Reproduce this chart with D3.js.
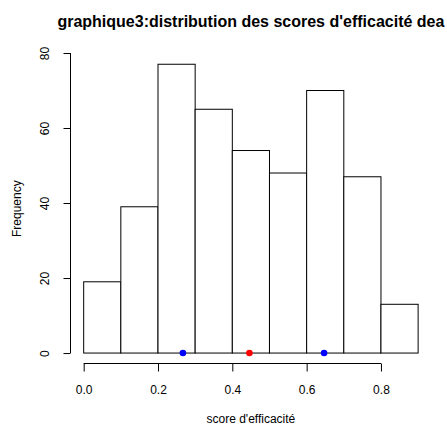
<!DOCTYPE html>
<html>
<head>
<meta charset="utf-8">
<script src="https://cdn.jsdelivr.net/npm/d3@7"></script>
<style>
  body { margin: 0; background: #fff; }
  svg text { font-family: "Liberation Sans", Arial, sans-serif; fill: #000; }
</style>
</head>
<body>
<svg id="chart" width="447" height="426"></svg>
<script>
// Data
let breaks = [0, 0.1, 0.2, 0.3, 0.4, 0.5, 0.6, 0.7, 0.8, 0.9];
let counts = [19, 39, 77, 65, 54, 48, 70, 47, 13];
let xTicks = [0, 0.2, 0.4, 0.6, 0.8];
let yTicks = [0, 20, 40, 60, 80];
let points = [
  { score: 0.267, color: "#0000FF" },
  { score: 0.446, color: "#FF0000" },
  { score: 0.647, color: "#0000FF" }
];

let svg = d3.select("#chart");
let plot = { left: 70.3, right: 431.5, top: 52.7, bottom: 364.6 };

// R style 4% extension of ranges
let xr = [breaks[0], breaks[breaks.length - 1]];
let xPad = (xr[1] - xr[0]) * 0.04;
let x = d3.scaleLinear()
  .domain([xr[0] - xPad, xr[1] + xPad])
  .range([plot.left, plot.right]);
let yMax = d3.max(counts);
let yPad = yMax * 0.04;
let y = d3.scaleLinear()
  .domain([-yPad, yMax + yPad])
  .range([plot.bottom, plot.top]);

let bins = counts.map((c, i) => ({ x0: breaks[i], x1: breaks[i + 1], n: c }));

// Bars
svg.append("g")
  .selectAll("rect")
  .data(bins)
  .enter()
  .append("rect")
    .attr("x", d => x(d.x0))
    .attr("y", d => y(d.n))
    .attr("width", d => x(d.x1) - x(d.x0))
    .attr("height", d => y(0) - y(d.n))
    .attr("fill", "white")
    .attr("stroke", "black")
    .attr("stroke-width", 1);

// Points on the baseline
svg.append("g")
  .selectAll("circle")
  .data(points)
  .enter()
  .append("circle")
    .attr("cx", d => x(d.score))
    .attr("cy", y(0))
    .attr("r", 3.3)
    .attr("fill", d => d.color);

// X axis (line only spans the tick range, like R)
let xAxis = svg.append("g")
  .attr("transform", "translate(0," + 363.5 + ")")
  .call(d3.axisBottom(x).tickValues(xTicks).tickFormat(d3.format(".1f"))
    .tickSize(8).tickSizeOuter(0).tickPadding(14));
xAxis.select(".domain")
  .attr("d", "M" + x(xTicks[0]) + ",0H" + x(xTicks[xTicks.length - 1]));
xAxis.selectAll("text").style("font-size", "12px");

// Y axis
let yAxis = svg.append("g")
  .attr("transform", "translate(" + 70.5 + ",0)")
  .call(d3.axisLeft(y).tickValues(yTicks).tickSize(7).tickSizeOuter(0).tickPadding(0));
yAxis.select(".domain")
  .attr("d", "M0," + y(yTicks[0]) + "V" + y(yTicks[yTicks.length - 1]));
yAxis.selectAll("text")
  .style("font-size", "12px")
  .attr("text-anchor", "middle")
  .attr("x", null)
  .attr("dy", null)
  .attr("transform", "translate(-26,0) rotate(-90)")
  .attr("dominant-baseline", "central");
svg.selectAll(".domain, .tick line").attr("stroke", "#000");
svg.selectAll("text").attr("fill", "#000");

// Labels
let cx = (plot.left + plot.right) / 2;
svg.append("text")
  .attr("x", cx)
  .attr("y", 27)
  .attr("text-anchor", "middle")
  .style("font-size", "16px")
  .style("font-weight", "bold")
  .text("graphique3:distribution des scores d'efficacité dea");

svg.append("text")
  .attr("x", cx)
  .attr("y", 423)
  .attr("text-anchor", "middle")
  .style("font-size", "12px")
  .text("score d'efficacité");

svg.append("text")
  .attr("transform", "translate(21," + ((plot.top + plot.bottom) / 2) + ") rotate(-90)")
  .attr("text-anchor", "middle")
  .style("font-size", "12px")
  .text("Frequency");
</script>
</body>
</html>
